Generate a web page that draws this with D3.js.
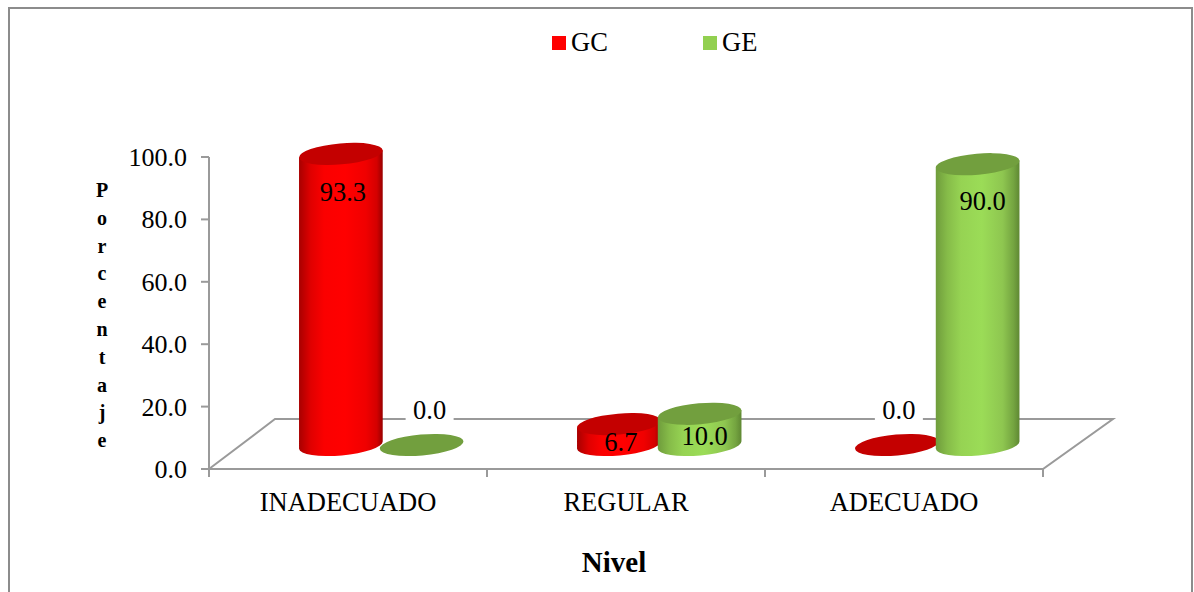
<!DOCTYPE html>
<html>
<head>
<meta charset="utf-8">
<script src="https://cdn.jsdelivr.net/npm/d3@7/dist/d3.min.js"></script>
<style>
  html, body { margin: 0; padding: 0; background: #fff; overflow: hidden; }
  svg { display: block; }
  text { font-family: "Liberation Serif", "Times New Roman", serif; fill: #000; }
</style>
</head>
<body>
<svg id="chart" width="1194" height="592"></svg>
<script>
// Chart data
const categories = ["INADECUADO", "REGULAR", "ADECUADO"];
const seriesNames = ["GC", "GE"];
const gcValues = [93.3, 6.7, 0.0];
const geValues = [0.0, 10.0, 90.0];
const yTicks = [0, 20, 40, 60, 80, 100];
const yTitle = "Porcentaje";
const xTitle = "Nivel";

const svg = d3.select("#chart");
const W = 1194, H = 592;

// Outer chart frame, open at the bottom edge
svg.append("path")
  .attr("d", `M9,${H} V8 H1192 V${H}`)
  .attr("fill", "none").attr("stroke", "#8c8c8c").attr("stroke-width", 2);

// Scales for the front plane of the 3-D box
const x0 = d3.scaleBand().domain(categories).range([209, 1043]);
const x1 = d3.scaleBand().domain(seriesNames).range([-80.5, 81]);
const y = d3.scaleLinear().domain([0, 100]).range([469, 157]);

// Depth of the floor and where the bars stand on it
const depth = { dx: 68, dy: -50 };
const barShift = { dx: 33, dy: -24 };
const rx = 42, ry = 10.5, tilt = -5;

const axisColor = "#9a9a9a";
const grid = svg.append("g").attr("fill", "none").attr("stroke", axisColor).attr("stroke-width", 2);

// Floor outline
const y0 = y(0), xL = x0.range()[0], xR = x0.range()[1];
grid.append("path").attr("d",
  `M${xL},${y0} L${xL + depth.dx - 2},${y0 + depth.dy} H${xR + depth.dx + 2} L${xR},${y0} Z`);

// Value axis and its ticks
grid.append("line").attr("x1", xL).attr("x2", xL).attr("y1", y(100)).attr("y2", y0);
grid.selectAll(".ytick").data(yTicks).join("line")
  .attr("x1", xL - 8).attr("x2", xL)
  .attr("y1", d => y(d)).attr("y2", d => y(d));

// Category ticks
const catEdges = categories.map(c => x0(c)).concat([xR]);
grid.selectAll(".xtick").data(catEdges).join("line")
  .attr("x1", d => d).attr("x2", d => d)
  .attr("y1", y0).attr("y2", y0 + 8);

// Value axis labels
svg.selectAll(".ylab").data(yTicks).join("text")
  .attr("x", 187).attr("y", d => y(d) + 9)
  .attr("text-anchor", "end").attr("font-size", 26)
  .text(d => d3.format(".1f")(d));

// Category labels
svg.selectAll(".xlab").data(categories).join("text")
  .attr("x", d => x0(d) + x0.bandwidth() / 2).attr("y", 511)
  .attr("text-anchor", "middle").attr("font-size", 26.5)
  .text(d => d);

// Axis titles
svg.selectAll(".ytitle").data(Array.from(yTitle)).join("text")
  .attr("x", 102).attr("y", (d, i) => 197 + i * 27.8)
  .attr("text-anchor", "middle").attr("font-size", 20).attr("font-weight", "bold")
  .text(d => d);
svg.append("text").attr("x", 614).attr("y", 572)
  .attr("text-anchor", "middle").attr("font-size", 29).attr("font-weight", "bold")
  .text(xTitle);

// Cylinder shading
const defs = svg.append("defs");
const palette = {
  GC: { legend: "#ff0000", cap: "#c40000",
        stops: [[0, "#a80000"], [0.14, "#e00000"], [0.3, "#fb0000"], [0.55, "#ff0000"], [0.8, "#f00000"], [0.93, "#d40000"], [1, "#980000"]] },
  GE: { legend: "#92d050", cap: "#729f3e",
        stops: [[0, "#6f9c3c"], [0.14, "#86bc49"], [0.3, "#96d353"], [0.55, "#9bdc57"], [0.8, "#8ec650"], [0.93, "#74a440"], [1, "#5f8833"]] }
};
seriesNames.forEach(s => {
  const g = defs.append("linearGradient").attr("id", "cyl" + s)
    .attr("x1", 0).attr("x2", 1).attr("y1", 0).attr("y2", 0);
  palette[s].stops.forEach(([o, c]) => g.append("stop").attr("offset", o).attr("stop-color", c));
});

// End points of an ellipse's long axis after tilting
const t = tilt * Math.PI / 180;
const ex = rx * Math.cos(t), ey = rx * Math.sin(t);

const rows = categories.flatMap((c, i) => [
  { cat: c, s: "GC", v: gcValues[i] },
  { cat: c, s: "GE", v: geValues[i] }
]);
rows.forEach(d => {
  d.cx = x0(d.cat) + x0.bandwidth() / 2 + x1(d.s) + x1.bandwidth() / 2 + barShift.dx;
  d.yBase = y(0) + barShift.dy;
  d.yTop = y(d.v) + barShift.dy;
});

// Cylinders, back to front from the left
const bars = svg.selectAll(".bar").data(rows).join("g").attr("class", "bar");
bars.filter(d => d.v > 0).append("path")
  .attr("fill", d => `url(#cyl${d.s})`)
  .attr("d", d =>
    `M${d.cx - ex},${d.yTop - ey} L${d.cx - ex},${d.yBase - ey}` +
    `A${rx},${ry} ${tilt} 0 0 ${d.cx + ex},${d.yBase + ey}` +
    `L${d.cx + ex},${d.yTop + ey} Z`);
bars.append("ellipse")
  .attr("rx", rx).attr("ry", ry).attr("fill", d => palette[d.s].cap)
  .attr("transform", d => `translate(${d.cx},${d.yTop}) rotate(${tilt})`);

// Value labels: vertical placement relative to the top of each cylinder
const labelDx = [2, 8, 2, 5, 2, 5];
const labelDy = [47, -26, 27, 31, -26, 46];
bars.each(function (d, i) {
  const g = d3.select(this);
  const lx = d.cx + labelDx[i], ly = d.yTop + labelDy[i];
  if (d.v === 0) {
    g.append("rect").attr("x", lx - 24).attr("y", ly - 26).attr("width", 48).attr("height", 32).attr("fill", "#fff");
  }
  g.append("text").attr("x", lx).attr("y", ly)
    .attr("text-anchor", "middle").attr("font-size", 26.5)
    .text(d3.format(".1f")(d.v));
});

// Legend
const legendX = d3.scalePoint().domain(seriesNames).range([552, 703]);
const legend = svg.selectAll(".legend").data(seriesNames).join("g")
  .attr("transform", s => `translate(${legendX(s)},36)`);
legend.append("rect").attr("width", 14).attr("height", 14).attr("fill", s => palette[s].legend);
legend.append("text").attr("x", 19).attr("y", 15).attr("font-size", 26.5).text(s => s);
</script>
</body>
</html>
